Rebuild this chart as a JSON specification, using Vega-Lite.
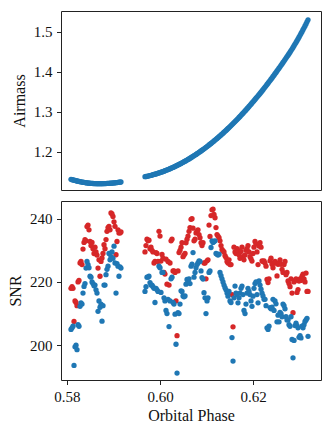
{
"$schema": "https://vega.github.io/schema/vega-lite/v6.json",
"padding": {"left": 7, "top": 10, "right": 7, "bottom": 5},
"spacing": 9,
"config": {
 "font": "Liberation Serif",
 "view": {"stroke": "#222", "strokeWidth": 1},
 "axis": {"grid": false, "domain": false, "labelFont": "Liberation Serif", "titleFont": "Liberation Serif", "labelFontSize": 15, "titleFontSize": 16, "titleFontWeight": "normal", "labelColor": "#111", "titleColor": "#111", "tickColor": "#222", "tickSize": 4.5, "labelPadding": 4.5, "titlePadding": 6},
 "axisX": {"labelPadding": 5, "titlePadding": 3}
},
"datasets": {"obs": [
{"phase":0.58086,"airmass":1.1308,"blue":205,"red":218},
{"phase":0.58108,"airmass":1.1300,"blue":205.5,"red":218.5},
{"phase":0.58129,"airmass":1.1293,"blue":206,"red":218},
{"phase":0.58151,"airmass":1.1286,"blue":193.6,"red":207.5},
{"phase":0.58172,"airmass":1.1279,"blue":199.5,"red":214},
{"phase":0.58194,"airmass":1.1272,"blue":200,"red":213.5},
{"phase":0.58215,"airmass":1.1266,"blue":198.6,"red":212.5},
{"phase":0.58237,"airmass":1.1260,"blue":206.5,"red":220},
{"phase":0.58258,"airmass":1.1254,"blue":206,"red":220.5},
{"phase":0.58280,"airmass":1.1249,"blue":212.3,"red":226},
{"phase":0.58301,"airmass":1.1243,"blue":213.4,"red":226.5},
{"phase":0.58323,"airmass":1.1239,"blue":213,"red":225.5},
{"phase":0.58344,"airmass":1.1234,"blue":216.5,"red":230.4},
{"phase":0.58366,"airmass":1.1230,"blue":218.6,"red":232.5},
{"phase":0.58387,"airmass":1.1225,"blue":219.5,"red":233.4},
{"phase":0.58409,"airmass":1.1222,"blue":224.4,"red":233},
{"phase":0.58430,"airmass":1.1218,"blue":226.5,"red":237.5},
{"phase":0.58452,"airmass":1.1215,"blue":225.5,"red":238},
{"phase":0.58473,"airmass":1.1212,"blue":224.5,"red":236.5},
{"phase":0.58495,"airmass":1.1209,"blue":221.8,"red":232.8},
{"phase":0.58516,"airmass":1.1207,"blue":221.5,"red":231.5},
{"phase":0.58538,"airmass":1.1205,"blue":220,"red":232.5},
{"phase":0.58559,"airmass":1.1203,"blue":219.5,"red":230.5},
{"phase":0.58581,"airmass":1.1202,"blue":218.8,"red":229},
{"phase":0.58602,"airmass":1.1200,"blue":219,"red":231},
{"phase":0.58624,"airmass":1.1199,"blue":217.5,"red":229.5},
{"phase":0.58645,"airmass":1.1199,"blue":216.5,"red":228.5},
{"phase":0.58667,"airmass":1.1198,"blue":210.7,"red":224.4},
{"phase":0.58688,"airmass":1.1198,"blue":214,"red":227},
{"phase":0.58710,"airmass":1.1198,"blue":212,"red":221.8},
{"phase":0.58731,"airmass":1.1198,"blue":213,"red":226.5},
{"phase":0.58753,"airmass":1.1199,"blue":207.6,"red":227.6},
{"phase":0.58774,"airmass":1.1199,"blue":212.5,"red":229},
{"phase":0.58796,"airmass":1.1200,"blue":219,"red":231.8},
{"phase":0.58817,"airmass":1.1201,"blue":219,"red":230.5},
{"phase":0.58839,"airmass":1.1202,"blue":222.3,"red":233.4},
{"phase":0.58860,"airmass":1.1204,"blue":224,"red":236},
{"phase":0.58882,"airmass":1.1205,"blue":225,"red":237.2},
{"phase":0.58903,"airmass":1.1207,"blue":229,"red":237.6},
{"phase":0.58925,"airmass":1.1209,"blue":227,"red":236.5},
{"phase":0.58946,"airmass":1.1211,"blue":228,"red":241.8},
{"phase":0.58968,"airmass":1.1213,"blue":229.5,"red":241.5},
{"phase":0.58989,"airmass":1.1215,"blue":227.5,"red":240.7},
{"phase":0.59011,"airmass":1.1218,"blue":231.3,"red":239},
{"phase":0.59032,"airmass":1.1221,"blue":226,"red":237.6},
{"phase":0.59054,"airmass":1.1224,"blue":216.5,"red":228.6},
{"phase":0.59075,"airmass":1.1227,"blue":225.8,"red":232.8},
{"phase":0.59097,"airmass":1.1230,"blue":225,"red":236.5},
{"phase":0.59118,"airmass":1.1234,"blue":221.8,"red":235.5},
{"phase":0.59140,"airmass":1.1237,"blue":224.8,"red":235.5},
{"phase":0.59161,"airmass":1.1241,"blue":224.4,"red":235.8},
{"phase":0.59677,"airmass":1.1373,"blue":217,"red":229.5},
{"phase":0.59699,"airmass":1.1378,"blue":218.5,"red":231.5},
{"phase":0.59720,"airmass":1.1384,"blue":221.5,"red":233.5},
{"phase":0.59742,"airmass":1.1390,"blue":221.5,"red":233},
{"phase":0.59763,"airmass":1.1396,"blue":221.8,"red":233.2},
{"phase":0.59785,"airmass":1.1402,"blue":219.8,"red":230.5},
{"phase":0.59806,"airmass":1.1408,"blue":219,"red":231},
{"phase":0.59828,"airmass":1.1415,"blue":219,"red":230},
{"phase":0.59849,"airmass":1.1422,"blue":218.5,"red":229.5},
{"phase":0.59871,"airmass":1.1429,"blue":218,"red":226},
{"phase":0.59892,"airmass":1.1436,"blue":213.5,"red":226.5},
{"phase":0.59914,"airmass":1.1444,"blue":218,"red":229.3},
{"phase":0.59935,"airmass":1.1452,"blue":217.5,"red":229},
{"phase":0.59957,"airmass":1.1460,"blue":217,"red":226.5},
{"phase":0.59978,"airmass":1.1468,"blue":225,"red":236},
{"phase":0.60000,"airmass":1.1477,"blue":224.5,"red":234.5},
{"phase":0.60021,"airmass":1.1485,"blue":216.7,"red":226.6},
{"phase":0.60043,"airmass":1.1494,"blue":223,"red":228.7},
{"phase":0.60064,"airmass":1.1503,"blue":223,"red":227.5},
{"phase":0.60086,"airmass":1.1513,"blue":215,"red":223},
{"phase":0.60107,"airmass":1.1522,"blue":214,"red":222.5},
{"phase":0.60129,"airmass":1.1532,"blue":211,"red":227.2},
{"phase":0.60150,"airmass":1.1542,"blue":210,"red":219.3},
{"phase":0.60172,"airmass":1.1553,"blue":214.5,"red":226.5},
{"phase":0.60194,"airmass":1.1563,"blue":205.9,"red":219},
{"phase":0.60215,"airmass":1.1574,"blue":214,"red":226},
{"phase":0.60237,"airmass":1.1585,"blue":221,"red":233},
{"phase":0.60258,"airmass":1.1596,"blue":221.5,"red":233.5},
{"phase":0.60280,"airmass":1.1607,"blue":213.5,"red":223.5},
{"phase":0.60301,"airmass":1.1619,"blue":213,"red":223.5},
{"phase":0.60323,"airmass":1.1631,"blue":209.8,"red":223},
{"phase":0.60344,"airmass":1.1643,"blue":200.3,"red":214},
{"phase":0.60366,"airmass":1.1655,"blue":191.2,"red":203},
{"phase":0.60387,"airmass":1.1668,"blue":210.3,"red":223.5},
{"phase":0.60409,"airmass":1.1681,"blue":210,"red":229.3},
{"phase":0.60430,"airmass":1.1694,"blue":213,"red":230},
{"phase":0.60452,"airmass":1.1707,"blue":217.2,"red":231},
{"phase":0.60473,"airmass":1.1720,"blue":217,"red":232.4},
{"phase":0.60495,"airmass":1.1734,"blue":215.6,"red":228},
{"phase":0.60516,"airmass":1.1748,"blue":215.3,"red":228.5},
{"phase":0.60538,"airmass":1.1762,"blue":215.6,"red":229},
{"phase":0.60559,"airmass":1.1776,"blue":219.3,"red":232.4},
{"phase":0.60581,"airmass":1.1791,"blue":220.8,"red":233.5},
{"phase":0.60602,"airmass":1.1805,"blue":220,"red":234.5},
{"phase":0.60624,"airmass":1.1820,"blue":221,"red":236},
{"phase":0.60645,"airmass":1.1836,"blue":219.5,"red":237.2},
{"phase":0.60667,"airmass":1.1851,"blue":225,"red":239.8},
{"phase":0.60688,"airmass":1.1867,"blue":225.6,"red":240},
{"phase":0.60710,"airmass":1.1883,"blue":229.3,"red":237},
{"phase":0.60731,"airmass":1.1899,"blue":221.5,"red":233},
{"phase":0.60753,"airmass":1.1915,"blue":223,"red":233.5},
{"phase":0.60774,"airmass":1.1932,"blue":224.5,"red":235.5},
{"phase":0.60796,"airmass":1.1949,"blue":225.5,"red":236},
{"phase":0.60817,"airmass":1.1966,"blue":226,"red":236.5},
{"phase":0.60839,"airmass":1.1983,"blue":226.7,"red":235},
{"phase":0.60860,"airmass":1.2000,"blue":226.5,"red":234},
{"phase":0.60882,"airmass":1.2018,"blue":223.5,"red":232.4},
{"phase":0.60903,"airmass":1.2036,"blue":221.4,"red":231.5},
{"phase":0.60925,"airmass":1.2054,"blue":220.9,"red":232.4},
{"phase":0.60946,"airmass":1.2073,"blue":216.6,"red":226},
{"phase":0.60968,"airmass":1.2091,"blue":215,"red":226},
{"phase":0.60989,"airmass":1.2110,"blue":210,"red":221},
{"phase":0.61011,"airmass":1.2129,"blue":214,"red":226.7},
{"phase":0.61032,"airmass":1.2148,"blue":215,"red":227},
{"phase":0.61054,"airmass":1.2168,"blue":223,"red":238},
{"phase":0.61075,"airmass":1.2188,"blue":223.5,"red":234.4},
{"phase":0.61097,"airmass":1.2208,"blue":230.9,"red":241},
{"phase":0.61118,"airmass":1.2228,"blue":233,"red":242.8},
{"phase":0.61140,"airmass":1.2248,"blue":232.5,"red":243},
{"phase":0.61161,"airmass":1.2269,"blue":232.8,"red":241.4},
{"phase":0.61183,"airmass":1.2290,"blue":233,"red":240.3},
{"phase":0.61204,"airmass":1.2311,"blue":229,"red":237.2},
{"phase":0.61226,"airmass":1.2332,"blue":228.8,"red":235},
{"phase":0.61247,"airmass":1.2354,"blue":228.5,"red":234.5},
{"phase":0.61269,"airmass":1.2375,"blue":228.8,"red":234},
{"phase":0.61290,"airmass":1.2397,"blue":223,"red":233},
{"phase":0.61312,"airmass":1.2420,"blue":222,"red":231.5},
{"phase":0.61333,"airmass":1.2442,"blue":221,"red":230.3},
{"phase":0.61355,"airmass":1.2465,"blue":220,"red":229.8},
{"phase":0.61376,"airmass":1.2487,"blue":219,"red":229.5},
{"phase":0.61398,"airmass":1.2511,"blue":218.2,"red":228.3},
{"phase":0.61419,"airmass":1.2534,"blue":217.5,"red":227.7},
{"phase":0.61441,"airmass":1.2557,"blue":216.5,"red":226.5},
{"phase":0.61462,"airmass":1.2581,"blue":215.5,"red":226},
{"phase":0.61484,"airmass":1.2605,"blue":217,"red":227},
{"phase":0.61505,"airmass":1.2630,"blue":214,"red":225.5},
{"phase":0.61527,"airmass":1.2654,"blue":213.5,"red":225.5},
{"phase":0.61548,"airmass":1.2679,"blue":202.4,"red":216},
{"phase":0.61570,"airmass":1.2704,"blue":195,"red":205.8},
{"phase":0.61591,"airmass":1.2729,"blue":215,"red":231},
{"phase":0.61613,"airmass":1.2754,"blue":218.7,"red":229.5},
{"phase":0.61634,"airmass":1.2780,"blue":216.5,"red":229},
{"phase":0.61656,"airmass":1.2805,"blue":216,"red":230.5},
{"phase":0.61677,"airmass":1.2831,"blue":213.4,"red":230},
{"phase":0.61699,"airmass":1.2858,"blue":215,"red":228.6},
{"phase":0.61720,"airmass":1.2884,"blue":216.5,"red":227.5},
{"phase":0.61742,"airmass":1.2911,"blue":218,"red":229.6},
{"phase":0.61763,"airmass":1.2938,"blue":218.7,"red":231},
{"phase":0.61785,"airmass":1.2965,"blue":216,"red":228},
{"phase":0.61806,"airmass":1.2992,"blue":211,"red":227},
{"phase":0.61828,"airmass":1.3020,"blue":210,"red":228.5},
{"phase":0.61849,"airmass":1.3048,"blue":213,"red":230},
{"phase":0.61871,"airmass":1.3076,"blue":216.5,"red":230.5},
{"phase":0.61892,"airmass":1.3104,"blue":218,"red":231.5},
{"phase":0.61914,"airmass":1.3133,"blue":217,"red":229.5},
{"phase":0.61935,"airmass":1.3161,"blue":216,"red":228},
{"phase":0.61957,"airmass":1.3190,"blue":214,"red":227.3},
{"phase":0.61978,"airmass":1.3220,"blue":212.3,"red":226.6},
{"phase":0.62000,"airmass":1.3249,"blue":215.5,"red":229},
{"phase":0.62021,"airmass":1.3279,"blue":218,"red":231},
{"phase":0.62043,"airmass":1.3308,"blue":219.5,"red":232.8},
{"phase":0.62064,"airmass":1.3339,"blue":220,"red":232},
{"phase":0.62086,"airmass":1.3369,"blue":216,"red":229.5},
{"phase":0.62108,"airmass":1.3399,"blue":213.4,"red":225.5},
{"phase":0.62129,"airmass":1.3430,"blue":220.3,"red":231.4},
{"phase":0.62151,"airmass":1.3461,"blue":219,"red":232.4},
{"phase":0.62172,"airmass":1.3492,"blue":217.7,"red":231},
{"phase":0.62194,"airmass":1.3524,"blue":216.5,"red":226.7},
{"phase":0.62215,"airmass":1.3555,"blue":215.6,"red":226.5},
{"phase":0.62237,"airmass":1.3587,"blue":214.5,"red":226.7},
{"phase":0.62258,"airmass":1.3619,"blue":214.5,"red":226},
{"phase":0.62280,"airmass":1.3652,"blue":212.5,"red":225},
{"phase":0.62301,"airmass":1.3684,"blue":205.5,"red":220.8},
{"phase":0.62323,"airmass":1.3717,"blue":205,"red":219.8},
{"phase":0.62344,"airmass":1.3750,"blue":206,"red":221},
{"phase":0.62366,"airmass":1.3783,"blue":211.9,"red":226.7},
{"phase":0.62387,"airmass":1.3817,"blue":211.5,"red":227.5},
{"phase":0.62409,"airmass":1.3850,"blue":212,"red":225.6},
{"phase":0.62430,"airmass":1.3884,"blue":214.5,"red":224.5},
{"phase":0.62452,"airmass":1.3918,"blue":211,"red":226},
{"phase":0.62473,"airmass":1.3953,"blue":214,"red":226.5},
{"phase":0.62495,"airmass":1.3987,"blue":213.1,"red":226},
{"phase":0.62516,"airmass":1.4022,"blue":207.4,"red":221.9},
{"phase":0.62538,"airmass":1.4057,"blue":209.5,"red":225.6},
{"phase":0.62559,"airmass":1.4093,"blue":207.4,"red":226},
{"phase":0.62581,"airmass":1.4128,"blue":210.4,"red":227},
{"phase":0.62602,"airmass":1.4164,"blue":210,"red":225.6},
{"phase":0.62624,"airmass":1.4200,"blue":209,"red":224},
{"phase":0.62645,"airmass":1.4236,"blue":213,"red":223},
{"phase":0.62667,"airmass":1.4272,"blue":212.5,"red":225.5},
{"phase":0.62688,"airmass":1.4309,"blue":211.5,"red":226.5},
{"phase":0.62710,"airmass":1.4346,"blue":209,"red":222.3},
{"phase":0.62731,"airmass":1.4383,"blue":208,"red":223},
{"phase":0.62753,"airmass":1.4420,"blue":208,"red":220.3},
{"phase":0.62774,"airmass":1.4457,"blue":206.5,"red":219.5},
{"phase":0.62796,"airmass":1.4495,"blue":206,"red":218.5},
{"phase":0.62817,"airmass":1.4534,"blue":209,"red":221},
{"phase":0.62839,"airmass":1.4573,"blue":201.8,"red":216.5},
{"phase":0.62860,"airmass":1.4614,"blue":196,"red":210.3},
{"phase":0.62882,"airmass":1.4655,"blue":201.5,"red":220},
{"phase":0.62903,"airmass":1.4696,"blue":206.2,"red":220.5},
{"phase":0.62925,"airmass":1.4739,"blue":207,"red":221},
{"phase":0.62946,"airmass":1.4782,"blue":206.2,"red":216.7},
{"phase":0.62968,"airmass":1.4826,"blue":205.5,"red":217.6},
{"phase":0.62989,"airmass":1.4870,"blue":202.5,"red":220.3},
{"phase":0.63011,"airmass":1.4916,"blue":203,"red":221},
{"phase":0.63032,"airmass":1.4962,"blue":202.3,"red":220.5},
{"phase":0.63054,"airmass":1.5009,"blue":206,"red":221.8},
{"phase":0.63075,"airmass":1.5056,"blue":205.5,"red":222.5},
{"phase":0.63097,"airmass":1.5104,"blue":206.5,"red":221},
{"phase":0.63118,"airmass":1.5153,"blue":207.5,"red":220},
{"phase":0.63140,"airmass":1.5203,"blue":208,"red":222.8},
{"phase":0.63161,"airmass":1.5254,"blue":208.5,"red":217},
{"phase":0.63183,"airmass":1.5305,"blue":202.8,"red":217}
]},
"vconcat": [
 {
  "width": 260, "height": 179,
  "data": {"name": "obs"},
  "mark": {"type": "circle", "size": 28, "opacity": 1, "color": "#1f77b4"},
  "encoding": {
   "x": {"field": "phase", "type": "quantitative", "scale": {"domain": [0.57871, 0.63462], "nice": false, "zero": false}, "axis": {"labels": false, "ticks": false, "title": null}},
   "y": {"field": "airmass", "type": "quantitative", "scale": {"domain": [1.104, 1.5526], "nice": false, "zero": false}, "axis": {"values": [1.2, 1.3, 1.4, 1.5], "format": ".1f", "title": "Airmass"}}
  }
 },
 {
  "width": 260, "height": 179,
  "data": {"name": "obs"},
  "encoding": {
   "x": {"field": "phase", "type": "quantitative", "scale": {"domain": [0.57871, 0.63462], "nice": false, "zero": false}, "axis": {"values": [0.58, 0.6, 0.62], "format": ".2f", "title": "Orbital Phase"}}
  },
  "layer": [
   {"mark": {"type": "circle", "size": 28, "opacity": 1, "color": "#d62728"},
    "encoding": {"y": {"field": "red", "type": "quantitative", "scale": {"domain": [189.0, 245.6], "nice": false, "zero": false}, "axis": {"values": [200, 220, 240], "format": "d", "title": "SNR"}}}},
   {"mark": {"type": "circle", "size": 28, "opacity": 1, "color": "#1f77b4"},
    "encoding": {"y": {"field": "blue", "type": "quantitative"}}}
  ]
 }
]
}
